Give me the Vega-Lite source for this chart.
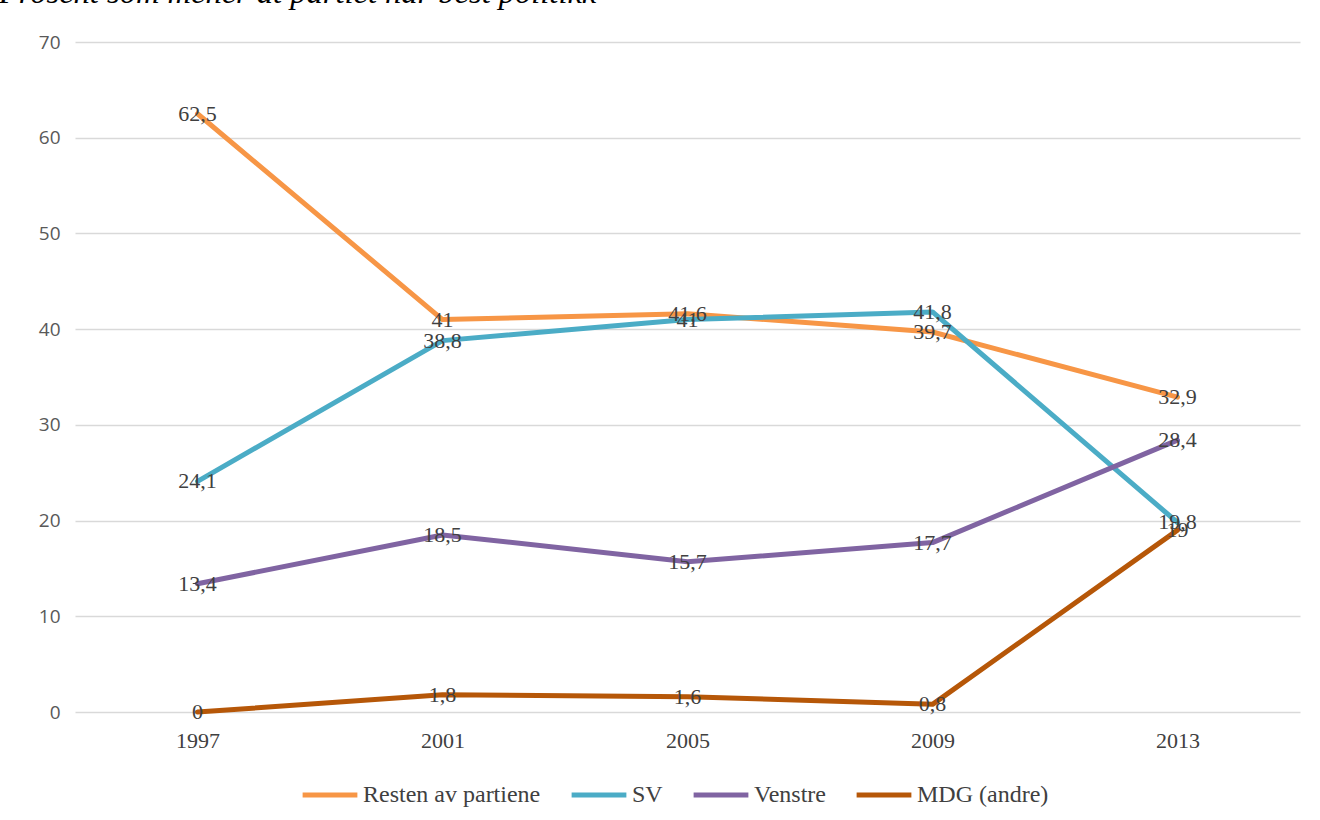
{
  "$schema": "https://vega.github.io/schema/vega-lite/v6.json",
  "width": 1225,
  "height": 670,
  "autosize": {"type": "none"},
  "padding": {"left": 75, "top": 42, "right": 20, "bottom": 108},
  "background": "white",
  "config": {
    "locale": {"number": {"decimal": ",", "thousands": " ", "grouping": [3], "currency": ["", " kr"]}},
    "view": {"stroke": null}
  },
  "title": {
    "text": "Prosent som mener at partiet har best politikk",
    "anchor": "start",
    "frame": "group",
    "dx": -76,
    "offset": -2,
    "font": "Liberation Serif",
    "fontStyle": "italic",
    "fontWeight": "normal",
    "fontSize": 32.5,
    "color": "#000000",
    "baseline": "alphabetic"
  },
  "data": {
    "values": [
      {"year": "1997", "series": "Resten av partiene", "value": 62.5},
      {"year": "2001", "series": "Resten av partiene", "value": 41},
      {"year": "2005", "series": "Resten av partiene", "value": 41.6},
      {"year": "2009", "series": "Resten av partiene", "value": 39.7},
      {"year": "2013", "series": "Resten av partiene", "value": 32.9},
      {"year": "1997", "series": "SV", "value": 24.1},
      {"year": "2001", "series": "SV", "value": 38.8},
      {"year": "2005", "series": "SV", "value": 41},
      {"year": "2009", "series": "SV", "value": 41.8},
      {"year": "2013", "series": "SV", "value": 19.8},
      {"year": "1997", "series": "Venstre", "value": 13.4},
      {"year": "2001", "series": "Venstre", "value": 18.5},
      {"year": "2005", "series": "Venstre", "value": 15.7},
      {"year": "2009", "series": "Venstre", "value": 17.7},
      {"year": "2013", "series": "Venstre", "value": 28.4},
      {"year": "1997", "series": "MDG (andre)", "value": 0},
      {"year": "2001", "series": "MDG (andre)", "value": 1.8},
      {"year": "2005", "series": "MDG (andre)", "value": 1.6},
      {"year": "2009", "series": "MDG (andre)", "value": 0.8},
      {"year": "2013", "series": "MDG (andre)", "value": 19}
    ]
  },
  "encoding": {
    "x": {
      "field": "year",
      "type": "ordinal",
      "scale": {"type": "point", "padding": 0.5},
      "axis": {
        "title": null,
        "labelAngle": 0,
        "domain": false,
        "ticks": false,
        "grid": false,
        "labelFont": "Liberation Serif",
        "labelFontSize": 22,
        "labelColor": "#404040",
        "labelPadding": 18
      }
    },
    "y": {
      "field": "value",
      "type": "quantitative",
      "scale": {"domain": [0, 70], "nice": false},
      "axis": {
        "title": null,
        "values": [0, 10, 20, 30, 40, 50, 60, 70],
        "domain": false,
        "ticks": false,
        "grid": true,
        "gridColor": "#d9d9d9",
        "gridWidth": 1.5,
        "labelFont": "Open Sans",
        "labelFontSize": 19,
        "labelColor": "#595959",
        "labelPadding": 15
      }
    }
  },
  "layer": [
    {
      "mark": {"type": "line", "strokeWidth": 5, "strokeCap": "round", "strokeJoin": "round"},
      "encoding": {
        "color": {
          "field": "series",
          "type": "nominal",
          "sort": ["Resten av partiene", "SV", "Venstre", "MDG (andre)"],
          "scale": {
            "domain": ["Resten av partiene", "SV", "Venstre", "MDG (andre)"],
            "range": ["#F79646", "#4BACC6", "#8064A2", "#B65708"]
          },
          "legend": {
            "title": null,
            "orient": "none",
            "legendX": 225,
            "legendY": 723,
            "direction": "horizontal",
            "symbolType": "stroke",
            "symbolStrokeWidth": 5,
            "symbolSize": 3000,
            "labelFont": "Liberation Serif",
            "labelFontSize": 24,
            "labelColor": "#404040",
            "labelLimit": 0,
            "columnPadding": 20,
            "labelOffset": 3
          }
        }
      }
    },
    {
      "mark": {
        "type": "text",
        "font": "Liberation Serif",
        "fontSize": 22,
        "color": "#404040",
        "baseline": "middle",
        "align": "center"
      },
      "encoding": {
        "text": {"field": "value", "type": "quantitative", "format": ".1~f"}
      }
    }
  ]
}
